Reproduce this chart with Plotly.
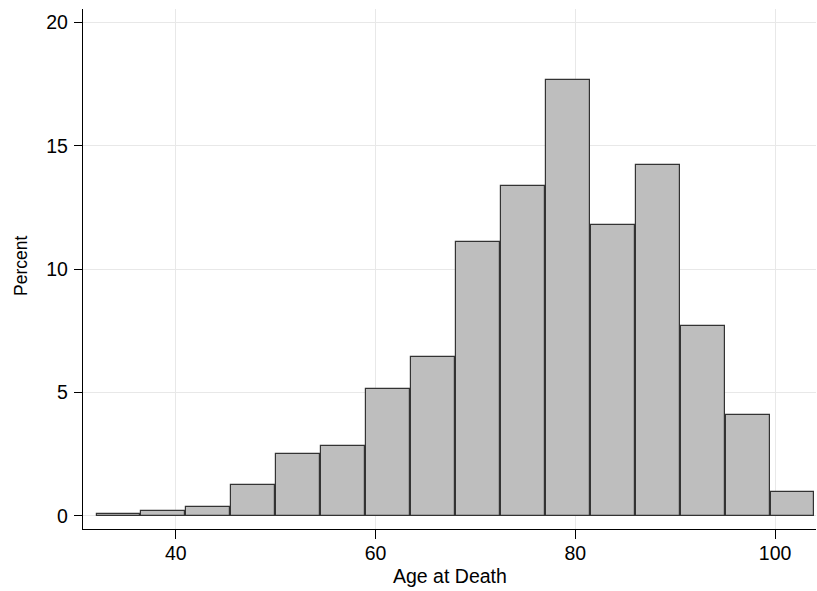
import plotly.graph_objects as go

# Histogram of age at death (percent per bin)
bin_start = 32.0
bin_width = 4.5
percent = [0.08, 0.19, 0.36, 1.26, 2.52, 2.82, 5.16, 6.43, 11.10, 13.36,
           17.65, 11.80, 14.23, 7.68, 4.08, 0.96]
bin_centers = [bin_start + bin_width * (i + 0.5) for i in range(len(percent))]

x_ticks = [40, 60, 80, 100]
y_ticks = [0, 5, 10, 15, 20]

fig = go.Figure(
    go.Bar(
        x=bin_centers,
        y=percent,
        width=bin_width * 0.975,
        marker=dict(color="#bebebe", line=dict(color="#333333", width=1.2)),
        hoverinfo="x+y",
    )
)

font_family = "Liberation Sans, Arial, sans-serif"

fig.update_layout(
    width=817,
    height=591,
    margin=dict(l=83, r=1, t=9, b=62),
    paper_bgcolor="white",
    plot_bgcolor="white",
    showlegend=False,
    font=dict(family=font_family, color="black", size=19.5),
    bargap=0,
    annotations=[
        dict(text="Age at Death", xref="paper", yref="paper", x=0.5, y=0,
             yshift=-47, xanchor="center", yanchor="middle", showarrow=False,
             font=dict(size=19.5)),
        dict(text="Percent", xref="paper", yref="paper", x=0, y=0.5,
             xshift=-62, yshift=3, xanchor="center", yanchor="middle",
             showarrow=False, textangle=-90, font=dict(size=17.5)),
    ],
)

fig.update_xaxes(
    range=[30.7, 104.1],
    automargin=False,
    tickvals=x_ticks,
    ticktext=[str(v) for v in x_ticks],
    ticks="outside",
    ticklen=9,
    tickcolor="black",
    tickwidth=1,
    ticklabelstandoff=-3,
    showline=True,
    linecolor="black",
    linewidth=1.3,
    showgrid=True,
    gridcolor="#e8e8e8",
    gridwidth=1.3,
    zeroline=False,
    tickfont=dict(size=19.5),
)

fig.update_yaxes(
    range=[-0.53, 20.54],
    automargin=False,
    tickvals=y_ticks,
    ticktext=[str(v) for v in y_ticks],
    ticks="outside",
    ticklen=8,
    tickcolor="black",
    tickwidth=1,
    ticklabelstandoff=2,
    showline=True,
    linecolor="black",
    linewidth=1.3,
    showgrid=True,
    gridcolor="#e8e8e8",
    gridwidth=1.3,
    zeroline=False,
    tickfont=dict(size=19.5),
)

fig.write_html(
    "out.html",
    config={"displayModeBar": False},
    post_script="document.body.style.margin='0';document.body.style.overflow='hidden';",
)
